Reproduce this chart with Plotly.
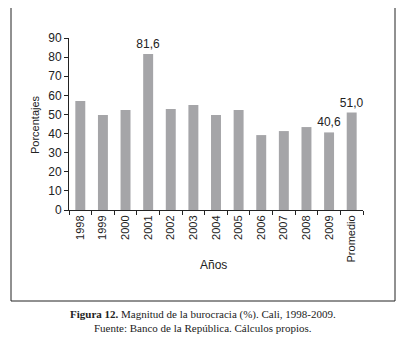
import plotly.graph_objects as go

categories = ["1998", "1999", "2000", "2001", "2002", "2003", "2004", "2005",
              "2006", "2007", "2008", "2009", "Promedio"]
values = [57.0, 49.7, 52.3, 81.6, 52.8, 55.0, 49.7, 52.3, 39.2, 41.3, 43.4, 40.6, 51.0]
labeled = {"2001", "2009", "Promedio"}
y_ticks = [0, 10, 20, 30, 40, 50, 60, 70, 80, 90]

# page is rendered with an 8px body margin; figure sized to fit the window
OFF = 8
W, H = 407 - OFF, 341 - OFF


def px(x):
    return (x - OFF) / W


def py(y):
    return (H - (y - OFF)) / H


texts = [f"{v:.1f}".replace(".", ",") if c in labeled else "" for c, v in zip(categories, values)]

sans = "Liberation Sans, Arial, sans-serif"
serif = "Liberation Serif, DejaVu Serif, serif"

fig = go.Figure(go.Bar(
    x=categories, y=values, text=texts, textposition="outside",
    textfont=dict(family=sans, size=12, color="#222"),
    constraintext="none",
    marker=dict(color="#a5a5a8", line=dict(width=0)),
    width=0.44, cliponaxis=False,
))

fig.update_layout(
    width=W, height=H, margin=dict(l=0, r=0, t=0, b=0, autoexpand=False),
    paper_bgcolor="white", plot_bgcolor="white", showlegend=False,
    xaxis=dict(domain=[px(69), px(363)], type="category", range=[-0.5, 12.5],
               automargin=False,
               showline=True, linecolor="#222", linewidth=1,
               ticks="outside", tickson="boundaries", ticklen=4, tickcolor="#222",
               tickangle=-90, tickfont=dict(family=sans, size=11, color="#222"),
               showgrid=False),
    yaxis=dict(domain=[py(210), py(38)], range=[0, 90], tickvals=y_ticks,
               automargin=False,
               showline=True, linecolor="#222", linewidth=1,
               ticks="outside", ticklen=4, tickcolor="#222",
               tickfont=dict(family=sans, size=12, color="#222"),
               showgrid=False, zeroline=False),
    shapes=[dict(type="rect", xref="paper", yref="paper",
                 x0=px(11), x1=px(395), y0=py(301), y1=py(6),
                 line=dict(color="#222", width=1))],
    annotations=[
        dict(text="Porcentajes", xref="paper", yref="paper", x=px(35), y=py(125),
             textangle=-90, showarrow=False, font=dict(family=sans, size=11, color="#222"),
             xanchor="center", yanchor="middle"),
        dict(text="Años", xref="paper", yref="paper", x=px(213), y=py(265),
             showarrow=False, font=dict(family=sans, size=12, color="#222"),
             xanchor="center", yanchor="middle"),
        dict(text="<b>Figura 12.</b> Magnitud de la burocracia (%). Cali, 1998-2009.",
             xref="paper", yref="paper", x=px(203), y=py(314), showarrow=False,
             font=dict(family=serif, size=11, color="#222"), xanchor="center", yanchor="middle"),
        dict(text="Fuente: Banco de la República. Cálculos propios.",
             xref="paper", yref="paper", x=px(203), y=py(328), showarrow=False,
             font=dict(family=serif, size=11, color="#222"), xanchor="center", yanchor="middle"),
    ],
)

fig.write_html("out.html")
